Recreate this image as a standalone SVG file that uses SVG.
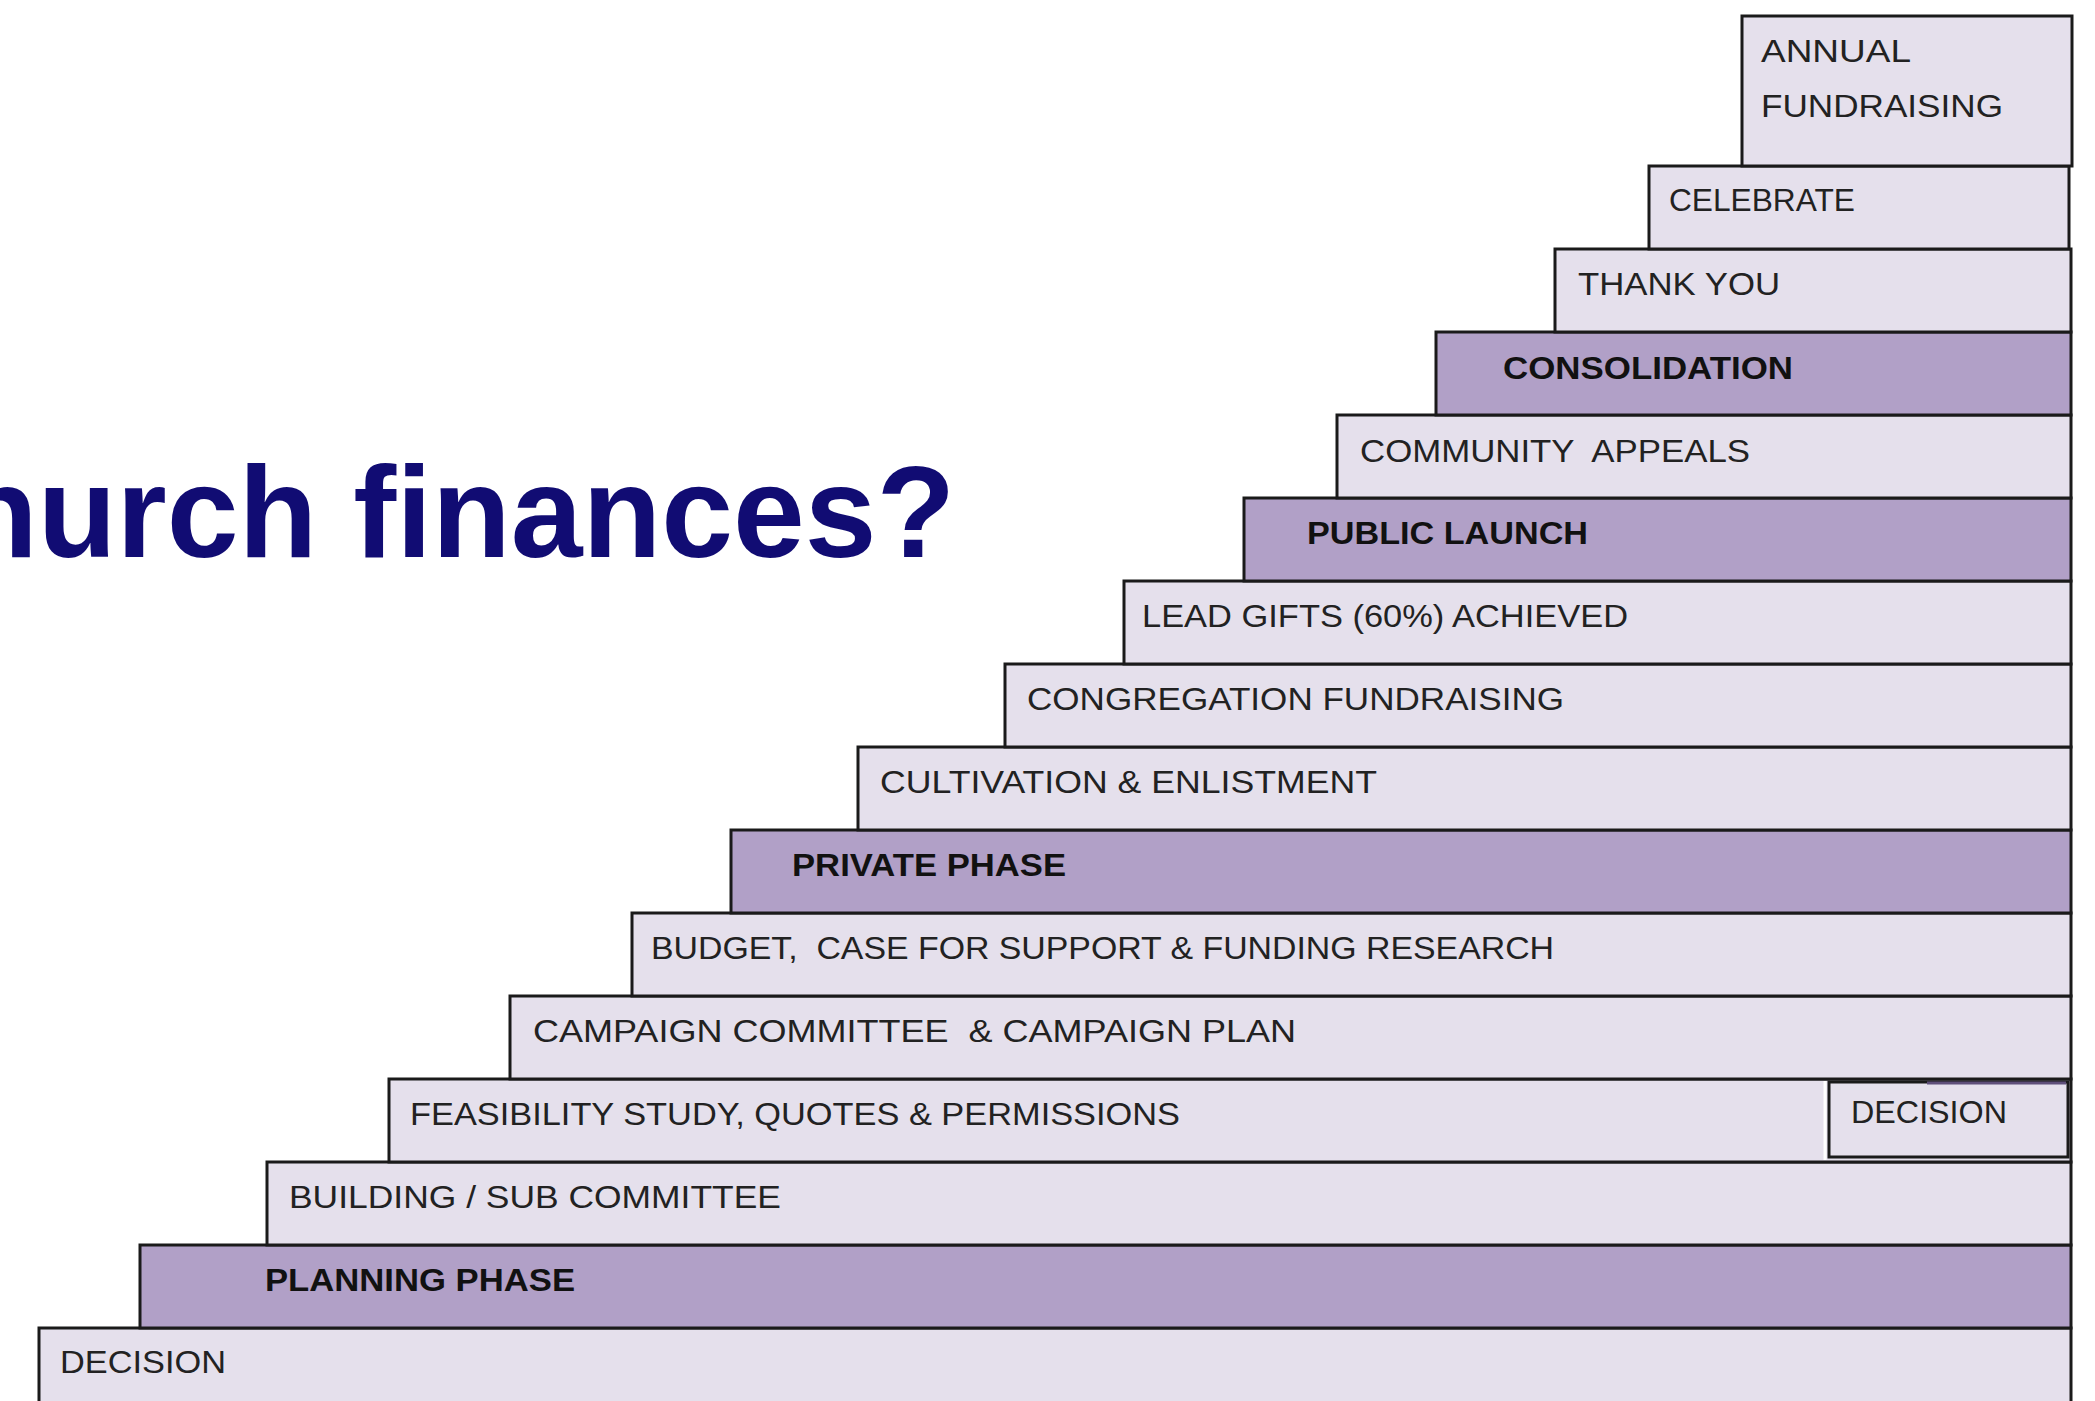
<svg xmlns="http://www.w3.org/2000/svg" width="2095" height="1401" viewBox="0 0 2095 1401">
<style>
.step{stroke:#1a1a1a;stroke-width:3}
.light{fill:#e5e0ec}
.dark{fill:#b1a0c7}
.lbl{font-family:'Liberation Sans',Arial,sans-serif;font-size:31px;fill:#222}
.bold{font-weight:bold;fill:#111}
.title{font-family:'Liberation Sans',Arial,sans-serif;font-weight:bold;font-size:129px;fill:#110c73}
</style>
<rect width="2095" height="1401" fill="#ffffff"/>
<text class="title" x="-41" y="557">hurch finances?</text>
<g id="steps">
<g id="decision-bottom"><rect class="step light" x="39" y="1328" width="2032" height="100"/><text class="lbl" x="60" y="1373" textLength="166" lengthAdjust="spacingAndGlyphs">DECISION</text></g>
<g id="planning-phase"><rect class="step dark" x="140" y="1245" width="1931" height="83"/><text class="lbl bold" x="265" y="1291" textLength="310" lengthAdjust="spacingAndGlyphs">PLANNING PHASE</text></g>
<g id="building"><rect class="step light" x="267" y="1162" width="1804" height="83"/><text class="lbl" x="289" y="1208" textLength="492" lengthAdjust="spacingAndGlyphs">BUILDING / SUB COMMITTEE</text></g>
<g id="feasibility"><rect class="step light" x="389" y="1079" width="1682" height="83"/><text class="lbl" x="410" y="1125" textLength="770" lengthAdjust="spacingAndGlyphs">FEASIBILITY STUDY, QUOTES &amp; PERMISSIONS</text></g>
<g id="decision-small"><line x1="1825" y1="1081" x2="1825" y2="1160" stroke="#ffffff" stroke-width="3"/><rect class="step light" x="1829" y="1082" width="239" height="75" stroke-width="2"/><line x1="1927" y1="1083" x2="2066" y2="1083" stroke="#5f4f7a" stroke-width="3"/><text class="lbl" x="1851" y="1123" textLength="156" lengthAdjust="spacingAndGlyphs">DECISION</text></g>
<g id="campaign"><rect class="step light" x="510" y="996" width="1561" height="83"/><text class="lbl" x="533" y="1042" textLength="763" lengthAdjust="spacingAndGlyphs" xml:space="preserve">CAMPAIGN COMMITTEE  &amp; CAMPAIGN PLAN</text></g>
<g id="budget"><rect class="step light" x="632" y="913" width="1439" height="83"/><text class="lbl" x="651" y="959" textLength="903" lengthAdjust="spacingAndGlyphs" xml:space="preserve">BUDGET,  CASE FOR SUPPORT &amp; FUNDING RESEARCH</text></g>
<g id="private-phase"><rect class="step dark" x="731" y="830" width="1340" height="83"/><text class="lbl bold" x="792" y="876" textLength="274" lengthAdjust="spacingAndGlyphs">PRIVATE PHASE</text></g>
<g id="cultivation"><rect class="step light" x="858" y="747" width="1213" height="83"/><text class="lbl" x="880" y="793" textLength="497" lengthAdjust="spacingAndGlyphs">CULTIVATION &amp; ENLISTMENT</text></g>
<g id="congregation"><rect class="step light" x="1005" y="664" width="1066" height="83"/><text class="lbl" x="1027" y="710" textLength="537" lengthAdjust="spacingAndGlyphs">CONGREGATION FUNDRAISING</text></g>
<g id="lead-gifts"><rect class="step light" x="1124" y="581" width="947" height="83"/><text class="lbl" x="1142" y="627" textLength="486" lengthAdjust="spacingAndGlyphs">LEAD GIFTS (60%) ACHIEVED</text></g>
<g id="public-launch"><rect class="step dark" x="1244" y="498" width="827" height="83"/><text class="lbl bold" x="1307" y="544" textLength="281" lengthAdjust="spacingAndGlyphs">PUBLIC LAUNCH</text></g>
<g id="community"><rect class="step light" x="1337" y="415" width="734" height="83"/><text class="lbl" x="1360" y="462" textLength="390" lengthAdjust="spacingAndGlyphs" xml:space="preserve">COMMUNITY  APPEALS</text></g>
<g id="consolidation"><rect class="step dark" x="1436" y="332" width="635" height="83"/><text class="lbl bold" x="1503" y="379" textLength="290" lengthAdjust="spacingAndGlyphs">CONSOLIDATION</text></g>
<g id="thank-you"><rect class="step light" x="1555" y="249" width="516" height="83"/><text class="lbl" x="1578" y="295" textLength="202" lengthAdjust="spacingAndGlyphs">THANK YOU</text></g>
<g id="celebrate"><rect class="step light" x="1649" y="166" width="420" height="83"/><text class="lbl" x="1669" y="211" textLength="186" lengthAdjust="spacingAndGlyphs">CELEBRATE</text></g>
<g id="annual"><rect class="step light" x="1742" y="16" width="330" height="150"/><text class="lbl" x="1761" y="62" textLength="150" lengthAdjust="spacingAndGlyphs">ANNUAL</text><text class="lbl" x="1761" y="117" textLength="242" lengthAdjust="spacingAndGlyphs">FUNDRAISING</text></g>
</g>
<g id="connectors"></g>
</svg>
